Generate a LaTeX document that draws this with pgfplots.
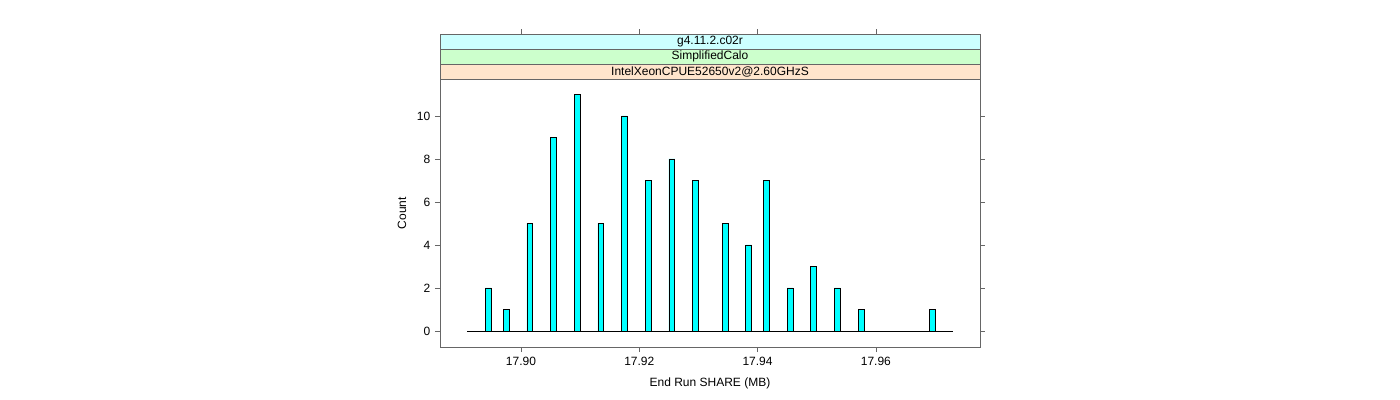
\documentclass[border=0pt]{standalone}
\usepackage{pgfplots}
\pgfplotsset{compat=1.18}
\usepackage{fontspec}
\setmainfont{Liberation Sans}
\definecolor{axcol}{HTML}{666666}
\definecolor{stripA}{HTML}{CCFFFF}
\definecolor{stripB}{HTML}{CCFFCC}
\definecolor{stripC}{HTML}{FFE5CC}
\definecolor{barfill}{HTML}{00FFFF}
% x values are (SHARE - 17.90 MB) * 1000
\begin{document}
\begin{tikzpicture}[x=1pt,y=1pt,font=\fontsize{9}{11}\selectfont]
\useasboundingbox (-330,-39.75) rectangle (720,260.25);
\begin{axis}[
    at={(0,0)}, anchor=south west,
    scale only axis, width=405pt, height=201pt,
    xmin=-13.69, xmax=77.6,
    ymin=-0.744, ymax=11.72,
    xtick={0,20,40,60},
    xticklabels={17.90,17.92,17.94,17.96},
    ytick={0,2,4,6,8,10},
    xtick pos=bottom,
    ytick pos=both, yticklabel pos=left,
    tick align=outside,
    major tick length=3.75pt,
    axis line style={axcol},
    every tick/.style={axcol},
    /pgf/number format/assume math mode=true,
    xlabel={End Run SHARE (MB)},
    ylabel={Count},
    xlabel style={at={(axis description cs:0.5,-0.134)}, anchor=center},
    ylabel style={at={(axis description cs:-0.0704,0.5)}, anchor=center},
    clip=false,
]
\addplot[black, line width=0.6pt] coordinates {(-9.1,0) (73.1,0)};
\addplot[ybar, bar width=1, fill=barfill, draw=black, line width=0.5pt] coordinates {
    (-5.5,2) (-2.5,1) (1.5,5) (5.5,9) (9.5,11)
    (13.5,5) (17.5,10) (21.5,7) (25.5,8) (29.5,7)
    (34.5,5) (38.5,4) (41.5,7) (45.5,2) (49.5,3)
    (53.5,2) (57.5,1) (69.5,1)
};
\end{axis}
\draw[axcol, fill=stripC] (0,201) rectangle (405,212.25);
\draw[axcol, fill=stripB] (0,212.25) rectangle (405,223.5);
\draw[axcol, fill=stripA] (0,223.5) rectangle (405,234.75);
\node at (202.5,206.6) {IntelXeonCPUE52650v2@2.60GHzS};
\node at (202.5,217.9) {SimplifiedCalo};
\node at (202.5,229.1) {g4.11.2.c02r};
\foreach \t in {60.75,149.5,238.3,327} \draw[axcol] (\t,234.75) -- (\t,238.5);
\end{tikzpicture}
\end{document}
